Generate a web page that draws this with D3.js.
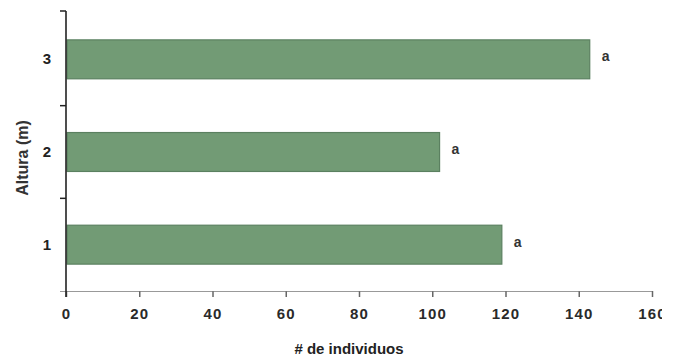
<!DOCTYPE html>
<html>
<head>
<meta charset="utf-8">
<script src="https://cdn.jsdelivr.net/npm/d3@7"></script>
<style>
  html, body { margin: 0; padding: 0; background: #fff; }
  svg { display: block; font-family: "Liberation Sans", Arial, sans-serif; }
</style>
</head>
<body>
<svg id="chart" width="683" height="358"></svg>
<script>
// Número de individuos por clase de altura
const categories = ["3", "2", "1"];
const values = [143, 102, 119];
const letters = ["a", "a", "a"];
const xTicks = [0, 20, 40, 60, 80, 100, 120, 140, 160];

const svg = d3.select("#chart");

const x = d3.scaleLinear().domain([0, 160]).range([66, 652]);
const y = d3.scaleBand().domain(categories).range([13, 291])
  .paddingInner(0.58).paddingOuter(0.29);

const axisTop = 11, axisBottom = 291;

// Recorte del borde derecho de la hoja
svg.append("defs").append("clipPath").attr("id", "page")
  .append("rect").attr("x", 0).attr("y", 0).attr("width", 662).attr("height", 358);

// Barras
svg.append("g").selectAll("rect")
  .data(categories)
  .join("rect")
  .attr("x", x(0) + 1)
  .attr("y", d => y(d))
  .attr("width", (d, i) => x(values[i]) - x(0) - 1)
  .attr("height", y.bandwidth())
  .attr("fill", "#729b75")
  .attr("stroke", "#5b8060")
  .attr("stroke-width", 1.2);

// Letras de significancia
svg.append("g").selectAll("text")
  .data(categories)
  .join("text")
  .attr("x", (d, i) => x(values[i]) + 12)
  .attr("y", d => y(d) + y.bandwidth() / 2 + 2)
  .attr("font-size", 14)
  .attr("font-weight", "bold")
  .attr("fill", "#333")
  .text((d, i) => letters[i]);

// Eje X
const xAxis = d3.axisBottom(x)
  .tickValues(xTicks)
  .tickSize(6)
  .tickFormat(d3.format("d"));
const gx = svg.append("g")
  .attr("transform", `translate(0,${axisBottom})`)
  .attr("clip-path", "url(#page)")
  .call(xAxis);
gx.select(".domain").remove();
gx.append("line")
  .attr("x1", x(0) - 6).attr("x2", x(160))
  .attr("stroke", "#777").attr("stroke-width", 1.5);
gx.selectAll(".tick line").attr("stroke", "#666").attr("stroke-width", 1.5);
gx.selectAll(".tick text")
  .attr("y", 28)
  .attr("dy", 0)
  .attr("font-size", 15)
  .attr("font-weight", "bold")
  .attr("letter-spacing", 1.2)
  .attr("font-family", "Liberation Sans, Arial, sans-serif")
  .attr("fill", "#2a2a2a");

// Eje Y
const gy = svg.append("g");
gy.append("line")
  .attr("x1", x(0)).attr("x2", x(0))
  .attr("y1", axisTop).attr("y2", axisBottom + 6)
  .attr("stroke", "#222").attr("stroke-width", 1.6);
const yTickPos = [axisTop].concat(categories.slice(1).map(c => y(c) - y.step() * y.paddingInner() / 2));
gy.selectAll("line.tk")
  .data(yTickPos)
  .join("line")
  .attr("class", "tk")
  .attr("x1", x(0) - 6).attr("x2", x(0))
  .attr("y1", d => d).attr("y2", d => d)
  .attr("stroke", "#222").attr("stroke-width", 1.5);
gy.selectAll("text")
  .data(categories)
  .join("text")
  .attr("x", 51)
  .attr("y", d => y(d) + y.bandwidth() / 2 + 5)
  .attr("text-anchor", "end")
  .attr("font-size", 15)
  .attr("font-weight", "bold")
  .attr("fill", "#222")
  .text(d => d);

// Títulos de ejes
svg.append("text")
  .attr("x", 349)
  .attr("y", 354)
  .attr("text-anchor", "middle")
  .attr("font-size", 15)
  .attr("font-weight", "bold")
  .attr("fill", "#222")
  .text("# de individuos");

svg.append("text")
  .attr("transform", "translate(28,158) rotate(-90)")
  .attr("text-anchor", "middle")
  .attr("font-size", 16)
  .attr("font-weight", "bold")
  .attr("fill", "#333")
  .text("Altura (m)");
</script>
</body>
</html>
